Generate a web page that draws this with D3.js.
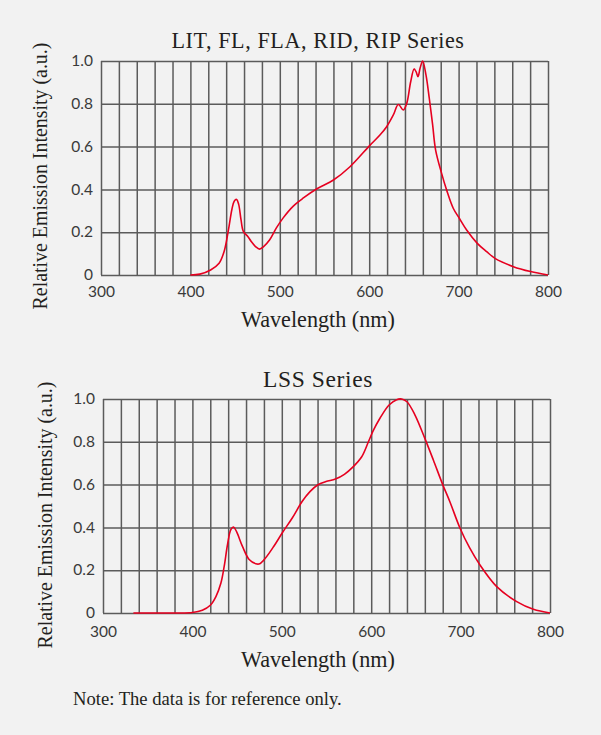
<!DOCTYPE html>
<html>
<head>
<meta charset="utf-8">
<script src="https://cdn.jsdelivr.net/npm/d3@7"></script>
<style>
  html, body { margin: 0; padding: 0; background: #f2f2f2; }
  svg { display: block; }
</style>
</head>
<body>
<svg id="chart" width="601" height="735"></svg>
<script>
// ---------- DATA ----------
const xTickLabels = [300, 400, 500, 600, 700, 800];
const yTickValues = [0, 0.2, 0.4, 0.6, 0.8, 1.0];
const yTickLabels = ["0", "0.2", "0.4", "0.6", "0.8", "1.0"];
const xGridValues = [300,320,340,360,380,400,420,440,460,480,500,520,540,560,580,600,620,640,660,680,700,720,740,760,780,800];

// Top chart: LIT, FL, FLA, RID, RIP Series
const topWavelength = [400, 410.6, 422.6, 432.1, 437.7, 442.6, 446.4, 449, 451.7, 454, 456.6, 459.2, 464.2, 468, 472.8, 477.4, 481.9, 488.7, 496.2, 503.8, 515.1, 526.4, 541.5, 560, 578.5, 601, 612, 619.5, 627, 632.6, 638.2, 642, 646.4, 650.2, 652.4, 654.6, 656.9, 659.8, 663.5, 667.2, 671, 674.3, 681, 686.6, 694, 700.8, 709, 720.9, 731.4, 740.7, 761.3, 780.6, 800];
const topIntensity  = [0,   0.004, 0.0235, 0.055, 0.11, 0.212, 0.306, 0.345, 0.353, 0.33, 0.259, 0.204, 0.18, 0.157, 0.133, 0.121, 0.133, 0.165, 0.22, 0.267, 0.322, 0.36, 0.403, 0.444, 0.506, 0.607, 0.654, 0.693, 0.748, 0.797, 0.771, 0.802, 0.903, 0.963, 0.95, 0.927, 0.966, 1.0, 0.935, 0.826, 0.70, 0.584, 0.475, 0.397, 0.312, 0.265, 0.21, 0.148, 0.109, 0.078, 0.039, 0.016, 0];

// Bottom chart: LSS Series
const botWavelength = [334, 360, 380, 400, 411.1, 420, 426.3, 431.9, 435.6, 439.3, 443, 446, 449.4, 456.1, 463.5, 471, 475.3, 482, 491.3, 500.6, 511.7, 522.9, 531.5, 540, 549.4, 560, 570, 580, 589.4, 596.9, 602, 609.8, 620, 628.5, 634, 640, 649, 660, 669.5, 680, 688, 699.4, 710, 721.7, 740.4, 762.8, 781.4, 800];
const botIntensity  = [0,   0,   0,   0.002, 0.0125, 0.036, 0.077, 0.14, 0.219, 0.32, 0.39, 0.402, 0.38, 0.31, 0.25, 0.23, 0.23, 0.258, 0.313, 0.375, 0.444, 0.522, 0.567, 0.598, 0.614, 0.626, 0.648, 0.684, 0.73, 0.80, 0.85, 0.91, 0.972, 0.997, 1.0, 0.987, 0.925, 0.816, 0.715, 0.6, 0.52, 0.396, 0.305, 0.224, 0.123, 0.053, 0.017, 0];

const charts = [
  { title: "LIT, FL, FLA, RID, RIP Series", titleW: 295, wl: topWavelength, val: topIntensity,
    left: 101, right: 548, top: 61, bottom: 275, titleY: 48, xlabY: 327, ylabX: 47, ylabC: 176, xtickY: 297 },
  { title: "LSS Series", titleW: 111, wl: botWavelength, val: botIntensity,
    left: 103, right: 550, top: 399, bottom: 613, titleY: 387, xlabY: 667, ylabX: 52, ylabC: 515, xtickY: 637 }
];

// ---------- DRAW ----------
const svg = d3.select("#chart");
svg.append("rect").attr("width", 601).attr("height", 735).attr("fill", "#f2f2f2");

const serif = "'Liberation Serif', 'Times New Roman', serif";
const sans = "Lato, 'Open Sans', sans-serif";
const gridColor = "#5b5b5b";
const textColor = "#231f20";
const centerX = 318;

// scale a text's font size so its rendered width matches the reference width
function fitWidth(sel, target) {
  const fs = +sel.attr("font-size");
  const w = sel.node().getComputedTextLength();
  if (w > 0) sel.attr("font-size", (fs * target / w).toFixed(2));
  return sel;
}

charts.forEach(c => {
  const x = d3.scaleLinear().domain([300, 800]).range([c.left, c.right]);
  const y = d3.scaleLinear().domain([0, 1]).range([c.bottom, c.top]);
  const g = svg.append("g");

  // vertical grid
  const gx = g.append("g")
    .attr("transform", `translate(0,${c.bottom})`)
    .call(d3.axisBottom(x).tickValues(xGridValues).tickSize(-(c.bottom - c.top)).tickFormat(""));
  gx.select(".domain").remove();
  gx.selectAll("line").attr("stroke", gridColor).attr("stroke-width", 1.5);

  // horizontal grid
  const gy = g.append("g")
    .attr("transform", `translate(${c.left},0)`)
    .call(d3.axisLeft(y).tickValues(yTickValues).tickSize(-(c.right - c.left)).tickFormat(""));
  gy.select(".domain").remove();
  gy.selectAll("line").attr("stroke", gridColor).attr("stroke-width", 1.5);

  // x tick labels
  const ax = g.append("g")
    .attr("transform", `translate(0,${c.bottom})`)
    .call(d3.axisBottom(x).tickValues(xTickLabels).tickSize(0).tickPadding(0).tickFormat(d3.format("d")));
  ax.select(".domain").remove();
  ax.selectAll("text")
    .attr("y", c.xtickY - c.bottom).attr("dy", 0)
    .attr("font-family", sans).attr("font-size", 15.5).attr("fill", "#3a3a3a");

  // y tick labels
  const ay = g.append("g")
    .attr("transform", `translate(${c.left},0)`)
    .call(d3.axisLeft(y).tickValues(yTickValues).tickSize(0).tickPadding(8)
      .tickFormat((d, i) => yTickLabels[i]));
  ay.select(".domain").remove();
  ay.selectAll("text")
    .attr("font-family", sans).attr("font-size", 15.5).attr("fill", "#3a3a3a").attr("dy", "0.3em");

  // curve
  const line = d3.line()
    .x((d, i) => x(c.wl[i]))
    .y((d, i) => y(c.val[i]))
    .curve(d3.curveCatmullRom.alpha(0.5));
  g.append("path")
    .datum(c.val)
    .attr("d", line)
    .attr("fill", "none")
    .attr("stroke", "#e60020")
    .attr("stroke-width", 1.6)
    .attr("stroke-linejoin", "round");

  // title
  const t = g.append("text")
    .attr("x", centerX).attr("y", c.titleY)
    .attr("text-anchor", "middle")
    .attr("font-family", serif).attr("font-size", 20).attr("letter-spacing", "0.6px")
    .attr("fill", textColor)
    .text(c.title);
  fitWidth(t, c.titleW);

  // x axis label
  const xl = g.append("text")
    .attr("x", centerX).attr("y", c.xlabY)
    .attr("text-anchor", "middle")
    .attr("font-family", serif).attr("font-size", 20)
    .attr("fill", textColor)
    .text("Wavelength (nm)");
  fitWidth(xl, 154);

  // y axis label
  const yl = g.append("text")
    .attr("transform", `translate(${c.ylabX},${c.ylabC}) rotate(-90)`)
    .attr("text-anchor", "middle")
    .attr("font-family", serif).attr("font-size", 20)
    .attr("fill", textColor)
    .text("Relative Emission Intensity (a.u.)");
  fitWidth(yl, 267);
});

const note = svg.append("text")
  .attr("x", 73).attr("y", 705)
  .attr("font-family", serif).attr("font-size", 16)
  .attr("fill", textColor)
  .text("Note: The data is for reference only.");
fitWidth(note, 269);
</script>
</body>
</html>
